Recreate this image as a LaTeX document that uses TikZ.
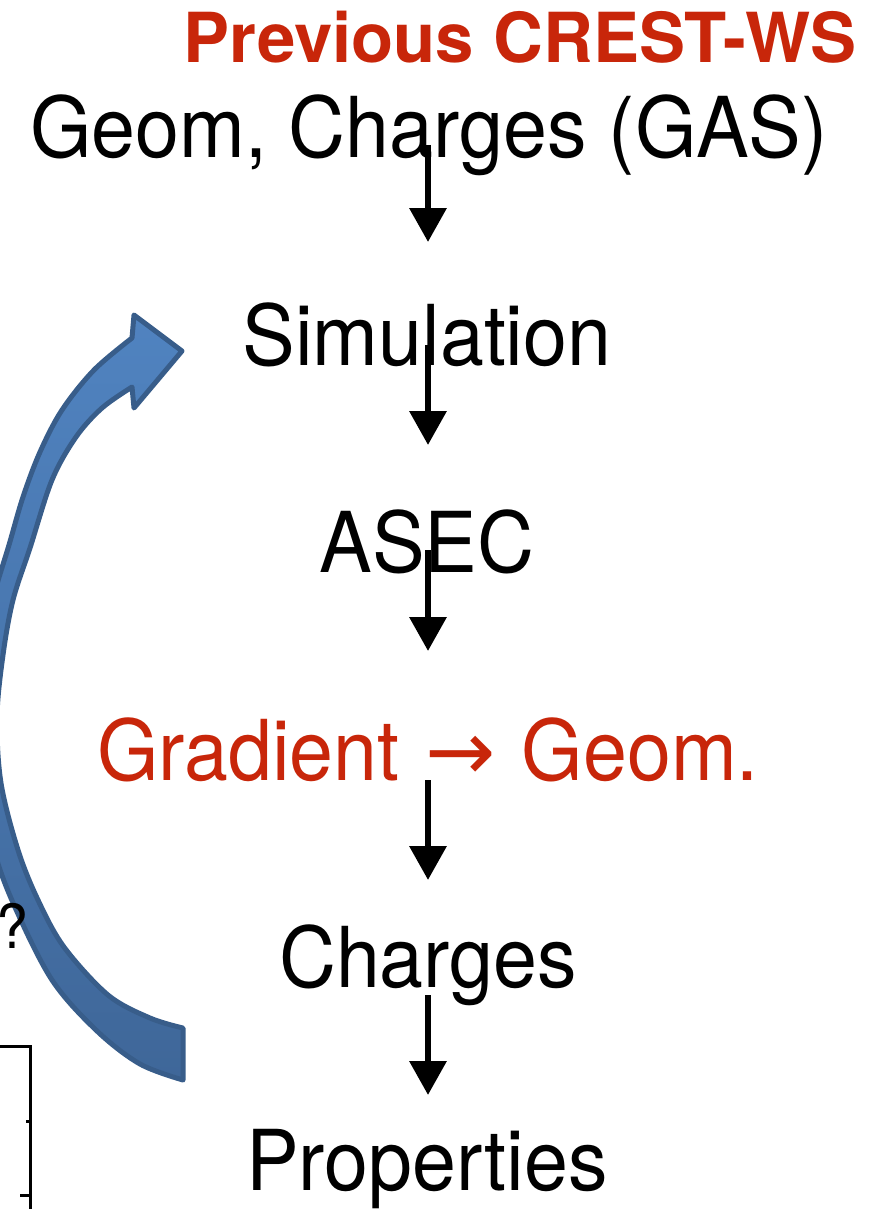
\documentclass[tikz,border=0pt]{standalone}
\usepackage{fontspec}
\setmainfont{TeX Gyre Heros}[FakeStretch=0.94]
\newfontfamily\headfont{TeX Gyre Heros}
\newfontfamily\arrowglyph{DejaVu Sans}
\usetikzlibrary{arrows.meta,calc}

\definecolor{slidered}{RGB}{200,38,10}
\definecolor{bandtop}{RGB}{80,131,192}
\definecolor{bandbottom}{RGB}{63,103,153}
\definecolor{bandedge}{RGB}{56,93,138}

\begin{document}
\begin{tikzpicture}[x=1pt,y=-1pt,
  steptext/.style={anchor=base, inner sep=0pt, font=\fontsize{84}{90}\selectfont},
  flow/.style={line width=6.5pt, -{Triangle[width=36pt,length=34pt]}},
  loopband/.style={draw=bandedge, line width=5pt, line join=round,
    top color=bandtop, bottom color=bandbottom},
  frame/.style={line width=3pt}]
\useasboundingbox (0,0) rectangle (868,1209);
\clip (0,0) rectangle (868,1209);

% heading
\node[anchor=base, inner sep=0pt, text=slidered,
      font=\headfont\bfseries\fontsize{69}{72}\selectfont] (title) at (520,63) {Previous CREST-WS};

% workflow steps
\node[steptext] (geom)  at (429,158)  {Geom, Charges (GAS)};
\node[steptext] (sim)   at (427,365)  {Simulation};
\node[steptext] (asec)  at (427,572)  {ASEC};
\node[steptext, text=slidered] (grad) at (428,780) {Gradient\hspace{4pt} {\arrowglyph →}\hspace{4pt} Geom.};
\node[steptext] (chg)   at (428,987)  {Charges};
\node[steptext] (props) at (427,1190) {Properties};

% downward flow arrows
\draw[flow] ([yshift=13pt]geom.base -| grad.base) -- ([yshift=123pt]sim.base -| grad.base);
\draw[flow] ([yshift=20pt]sim.base -| grad.base)  -- ([yshift=127pt]asec.base -| grad.base);
\draw[flow] ([yshift=22pt]asec.base -| grad.base) -- ([yshift=129pt]grad.base);
\draw[flow] (grad.base)                           -- ([yshift=107pt]chg.base);
\draw[flow] ([yshift=-8pt]chg.base)               -- ([yshift=95pt]props.base -| chg.base);

% curved feedback arrow from the charges back to the simulation
\path[loopband]
  plot[smooth, tension=0.55] coordinates {(183,1080) (140,1064) (97,1031) (52,980) (14,905)
       (-6,850) (-20,780) (-24,710) (-18,650) (-6,595) (9,545) (23,497) (40,452) (62,410)
       (94,370) (132,338)}
  -- (134,315) -- (182,351) -- (134,408)
  -- plot[smooth, tension=0.55] coordinates {(132,387) (102,408) (76,437) (52,480) (30,548)
       (13,600) (3,655) (-3,717) (1,783) (18,850) (38,900) (64,947) (108,995) (150,1018) (183,1028)}
  -- cycle;

\node[anchor=base east, inner sep=0pt, font=\fontsize{61}{64}\selectfont] (q) at (29,948) {?};

% edge of the neighbouring plot frame
\draw[frame] (0,1046) -- (30,1046) -- (30,1215);
\draw[frame] (26,1121) -- (30,1121);
\draw[frame] (20,1195) -- (30,1195);
\end{tikzpicture}
\end{document}
